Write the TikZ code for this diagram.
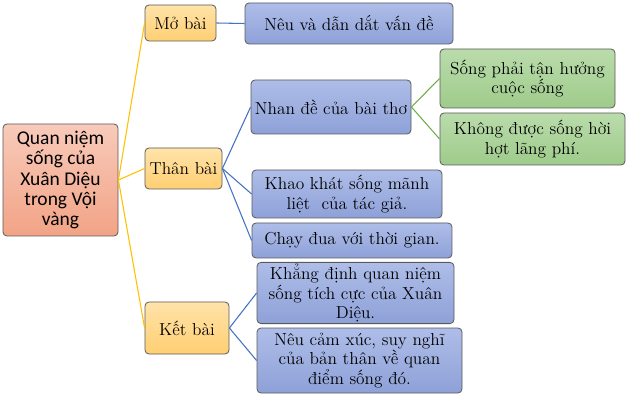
\documentclass[tikz,border=0pt]{standalone}
\usepackage{fontspec}
\newfontfamily\rootfont{Carlito}
\usetikzlibrary{positioning}

\definecolor{rootfill}{HTML}{F5B49C}
\definecolor{rootdark}{HTML}{F2A386}
\definecolor{partfill}{HTML}{FFDC94}
\definecolor{partdark}{HTML}{FFCF72}
\definecolor{bluefill}{HTML}{AEBDE8}
\definecolor{bluedark}{HTML}{8EA1D8}
\definecolor{greenfill}{HTML}{BADCAB}
\definecolor{greendark}{HTML}{9ECB8B}
\definecolor{orangeline}{HTML}{FFC000}
\definecolor{blueline}{HTML}{4472C4}
\definecolor{greenline}{HTML}{70AD47}
\definecolor{boxline}{HTML}{5A5A5A}

\newdimen\px \px=0.75pt

\begin{document}
\begin{tikzpicture}[x=0.75pt, y=-0.75pt,
    box/.style={rectangle, rounded corners=4\px, draw=boxline, line width=0.6pt, align=center, inner sep=1pt, font=\rmfamily\fontsize{13}{14.8}\selectfont},
    rootbox/.style={box, top color=rootfill!70!white, bottom color=rootdark, font=\rootfont\fontsize{14.6}{15.2}\selectfont},
    partbox/.style={box, top color=partfill!80!white, bottom color=partdark},
    bluebox/.style={box, top color=bluefill, bottom color=bluedark},
    greenbox/.style={box, top color=greenfill, bottom color=greendark},
    orangelink/.style={draw=orangeline, line width=0.8pt},
    bluelink/.style={draw=blueline, line width=0.8pt},
    greenlink/.style={draw=greenline, line width=0.8pt}]
        \useasboundingbox (0,0) rectangle (631,402);

        \node (root) [rootbox, minimum width=115\px, minimum height=112\px] at (60.5,180) {Quan niệm\\sống của\\Xuân Diệu\\trong Vội\\vàng};

        \node (mobai) [partbox, minimum width=71\px, minimum height=36\px] at (180.5,23) {Mở bài};
        \node (thanbai) [partbox, minimum width=77\px, minimum height=41\px] at (183.5,168.5) {Thân bài};
        \node (ketbai) [partbox, minimum width=84\px, minimum height=52\px] at (187,328) {Kết bài};

        \node (neuvan) [bluebox, minimum width=208\px, minimum height=41\px] at (349,23.5) {Nêu và dẫn dắt vấn đề};
        \node (nhande) [bluebox, minimum width=160\px, minimum height=54\px] at (331,107) {Nhan đề của bài thơ};
        \node (khaokhat) [bluebox, minimum width=190\px, minimum height=48\px] at (347,194) {Khao khát sống mãnh\\liệt \ của tác giả.};
        \node (chaydua) [bluebox, minimum width=200\px, minimum height=35\px] at (352,240.5) {Chạy đua với thời gian.};
        \node (khangdinh) [bluebox, minimum width=197\px, minimum height=60\px] at (355.5,293) {Khẳng định quan niệm\\sống tích cực của Xuân\\Diệu.};
        \node (neucamxuc) [bluebox, minimum width=205\px, minimum height=65\px] at (359.5,360.5) {Nêu cảm xúc, suy nghĩ\\của bản thân về quan\\điểm sống đó.};

        \node (songphai) [greenbox, minimum width=175\px, minimum height=59\px] at (527.5,78.5) {Sống phải tận hưởng\\cuộc sống};
        \node (khongduoc) [greenbox, minimum width=185\px, minimum height=52\px] at (532.5,139) {Không được sống hời\\hợt lãng phí.};

        % root to parts
        \draw [orangelink] (root.east) -- (mobai.west);
        \draw [orangelink] (root.east) -- (thanbai.west);
        \draw [orangelink] (root.east) -- (ketbai.west);

        % parts to contents
        \draw [bluelink] (mobai.east) -- (neuvan.west);
        \draw [bluelink] (thanbai.east) -- (nhande.west);
        \draw [bluelink] (thanbai.east) -- (khaokhat.west);
        \draw [bluelink] (thanbai.east) -- (chaydua.west);
        \draw [bluelink] (ketbai.east) -- (khangdinh.west);
        \draw [bluelink] (ketbai.east) -- (neucamxuc.west);

        % title details
        \draw [greenlink] (nhande.east) -- (songphai.west);
        \draw [greenlink] (nhande.east) -- (khongduoc.west);

\end{tikzpicture}
\end{document}
